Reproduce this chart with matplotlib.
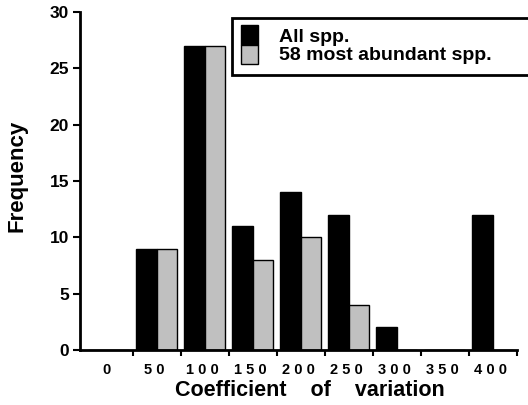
import numpy as np
import matplotlib
matplotlib.use("Agg")
import matplotlib.pyplot as plt
from matplotlib.patches import Rectangle

# histogram of coefficient of variation classes
labels = ['0', '50', '100', '150', '200', '250', '300', '350', '400']
all_spp = [0, 9, 27, 11, 14, 12, 2, 0, 12]
abundant = [0, 9, 27, 8, 10, 4, 0, 0, 0]
legend_names = ['All spp.', '58 most abundant spp.']

plt.rcParams['font.family'] = ['Liberation Sans', 'DejaVu Sans']
plt.rcParams['font.weight'] = 'bold'

W, H = 528, 405
fig = plt.figure(figsize=(W / 100, H / 100), dpi=100)
ax = fig.add_axes([80 / W, 55 / H, 437 / W, 338 / H])

gray = '#c0c0c0'
x = np.arange(len(labels))
ax.bar(x + 0.06, all_spp, width=0.44, align='edge', color='black', edgecolor='black', lw=1)
ax.bar(x + 0.50, abundant, width=0.42, align='edge', color=gray, edgecolor='black', lw=1)

ax.set_xlim(-0.1, 9)
ax.set_ylim(0, 30)
for s in ['top', 'right']:
    ax.spines[s].set_visible(False)
for s in ['left', 'bottom']:
    ax.spines[s].set_linewidth(2)

ax.set_yticks(range(0, 31, 5))
ax.tick_params(axis='y', direction='out', length=5, width=1.5, labelsize=12.5, pad=3)
ax.set_xticks(x + 0.45, [' '.join(l) for l in labels])
ax.set_xticks(x + 1, minor=True)
ax.tick_params(axis='x', which='major', length=0, labelsize=10.5, pad=9)
ax.tick_params(axis='x', which='minor', direction='out', length=4, width=1.5)

fig.text(310 / W, 1 - 391 / H, 'Coefficient    of    variation',
         ha='center', va='center', fontsize=15.5, fontweight='bold')
fig.text(17 / W, 1 - 176 / H, 'Frequency', rotation=90,
         ha='center', va='center', fontsize=16, fontweight='bold')

# legend box running off the right edge
fig.patches.append(Rectangle((232 / W, 1 - 75 / H), 400 / W, 57 / H, transform=fig.transFigure,
                             facecolor='white', edgecolor='black', lw=2, clip_on=False))
fig.patches.append(Rectangle((241 / W, 1 - 45 / H), 17 / W, 20 / H, transform=fig.transFigure,
                             facecolor='black', edgecolor='black', lw=1))
fig.patches.append(Rectangle((241 / W, 1 - 64 / H), 17 / W, 19 / H, transform=fig.transFigure,
                             facecolor=gray, edgecolor='black', lw=1))
fig.text(279 / W, 1 - 37 / H, legend_names[0], ha='left', va='center', fontsize=14, fontweight='bold')
fig.text(279 / W, 1 - 56 / H, legend_names[1], ha='left', va='center', fontsize=14, fontweight='bold')

fig.savefig('out.png', dpi=100)
